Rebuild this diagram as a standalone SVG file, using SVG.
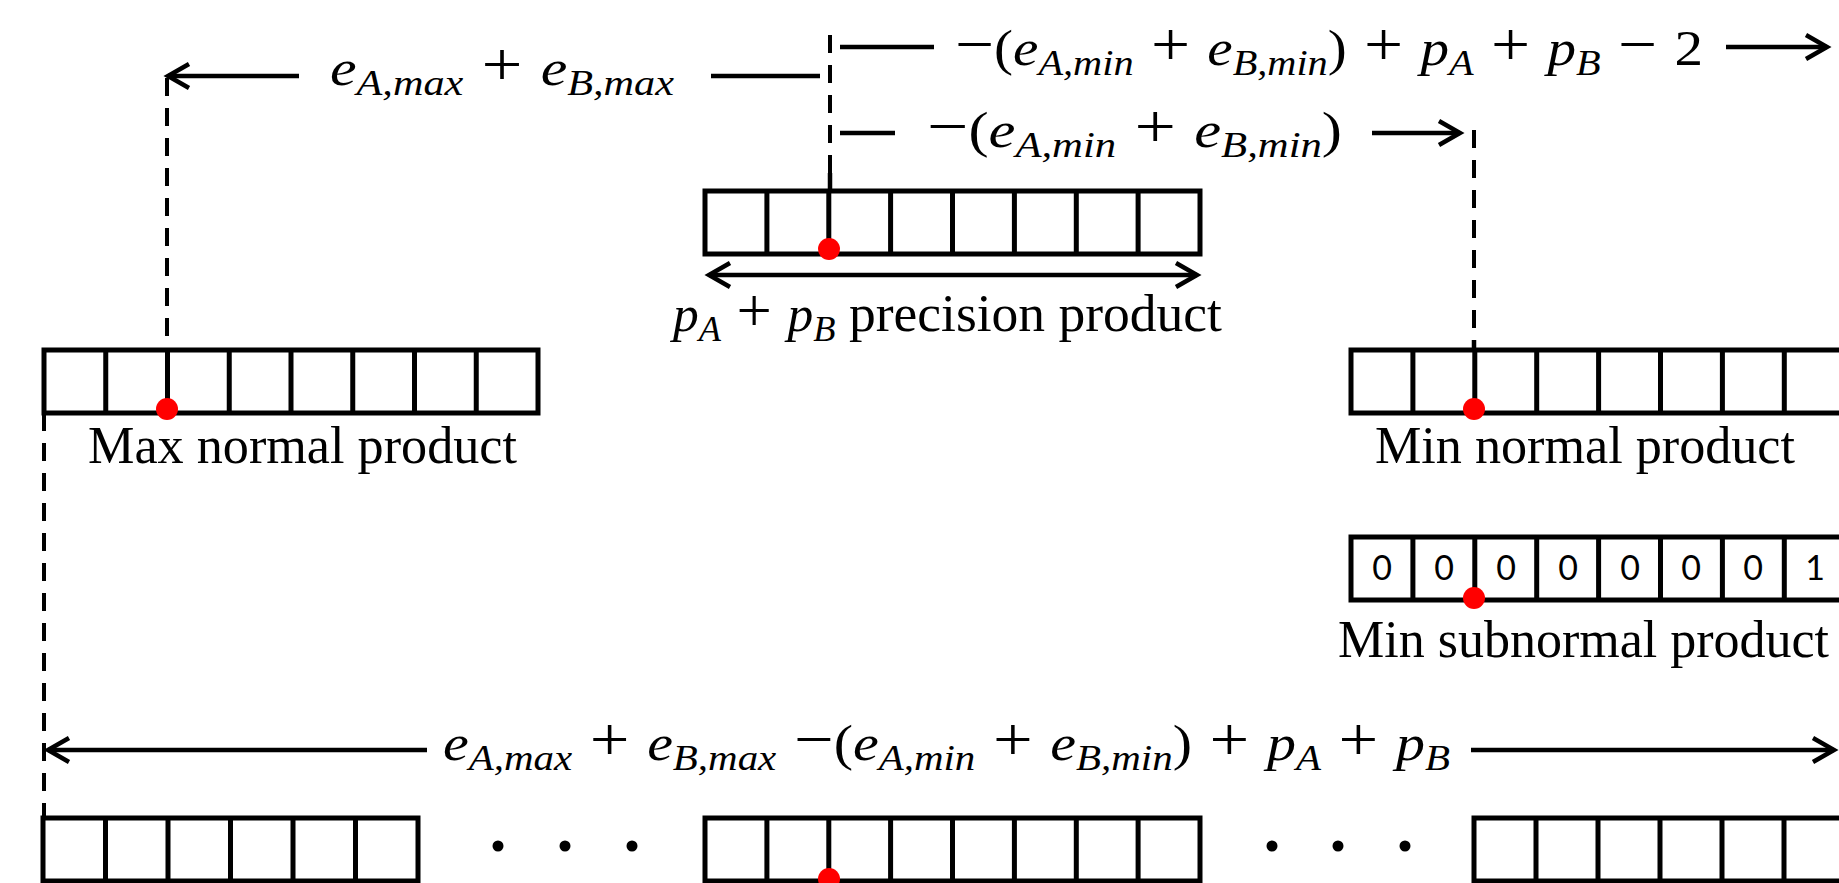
<svg xmlns="http://www.w3.org/2000/svg" width="1839" height="883" viewBox="0 0 1839 883">
<style>
.box{fill:#fff;stroke:#000;stroke-width:5}
.cell{stroke:#000;stroke-width:5;fill:none}
.dash{stroke:#000;stroke-width:4;stroke-dasharray:18 12;fill:none}
.ln{stroke:#000;stroke-width:4.5;fill:none}
.arr{stroke:#000;stroke-width:4.5;fill:none;marker-end:url(#ah)}
.dot{fill:#ff0000}
.lbl{font-family:"Liberation Serif","Times New Roman",serif;font-size:53px;fill:#000}
.math{font-family:"Liberation Serif","Times New Roman",serif;font-size:51px;font-style:italic;fill:#000}
.sub{font-size:36px}
.up{font-style:normal}
.op{font-style:normal;font-size:62px}
.rm{font-style:normal;font-size:53px}
.dig{font-family:Lato,"Liberation Sans",sans-serif;font-size:34px;text-anchor:middle;fill:#000}
</style>
<defs>
<marker id="ah" markerUnits="userSpaceOnUse" markerWidth="40" markerHeight="40" viewBox="-30 -20 40 40" refX="0" refY="0" orient="auto-start-reverse">
<path d="M-21,-12 L0,0 L-21,12" fill="none" stroke="#000" stroke-width="4.5" stroke-linejoin="miter"/>
</marker>
</defs>

<g id="connectors">
<line class="arr" x1="299" y1="76" x2="168" y2="76"/>
<line class="ln" x1="711" y1="76" x2="820" y2="76"/>
<line class="dash" x1="167" y1="78" x2="167" y2="350"/>
<line class="dash" x1="830" y1="35" x2="830" y2="173"/>
<line class="ln" x1="830" y1="173" x2="830" y2="192"/>
<line class="ln" x1="840" y1="47" x2="934" y2="47"/>
<line class="arr" x1="1726" y1="47" x2="1827" y2="47"/>
<line class="ln" x1="840" y1="133" x2="895" y2="133"/>
<line class="arr" x1="1372" y1="133" x2="1460" y2="133"/>
<line class="dash" x1="1474" y1="130" x2="1474" y2="340"/>
<line class="ln" x1="1474" y1="340" x2="1474" y2="351"/>
<line class="ln" x1="709" y1="275" x2="1197" y2="275" marker-start="url(#ah)" marker-end="url(#ah)"/>
<line class="dash" x1="44" y1="413" x2="44" y2="818"/>
<line class="arr" x1="427" y1="750" x2="48" y2="750"/>
<line class="arr" x1="1471" y1="750" x2="1834" y2="750"/>
</g>

<g id="label-emax">
<text class="math" x="330" y="85" textLength="344" lengthAdjust="spacingAndGlyphs">e<tspan class="sub" dy="10">A,max</tspan><tspan class="op" dy="-10"> + </tspan>e<tspan class="sub" dy="10">B,max</tspan></text>
</g>
<g id="label-row1">
<text class="math" x="955" y="65" textLength="748" lengthAdjust="spacingAndGlyphs"><tspan class="op">−</tspan><tspan class="up">(</tspan>e<tspan class="sub" dy="10">A,min</tspan><tspan class="op" dy="-10"> + </tspan>e<tspan class="sub" dy="10">B,min</tspan><tspan class="up" dy="-10">)</tspan><tspan class="op"> + </tspan>p<tspan class="sub" dy="10">A</tspan><tspan class="op" dy="-10"> + </tspan>p<tspan class="sub" dy="10">B</tspan><tspan class="op" dy="-10"> − </tspan><tspan class="up">2</tspan></text>
</g>
<g id="label-row2">
<text class="math" x="927" y="147" textLength="415" lengthAdjust="spacingAndGlyphs"><tspan class="op">−</tspan><tspan class="up">(</tspan>e<tspan class="sub" dy="10">A,min</tspan><tspan class="op" dy="-10"> + </tspan>e<tspan class="sub" dy="10">B,min</tspan><tspan class="up" dy="-10">)</tspan></text>
</g>

<g id="precision-product">
<rect class="box" x="705" y="191" width="495" height="63"/>
<path class="cell" d="M766.9,191V254M828.8,191V254M890.6,191V254M952.5,191V254M1014.4,191V254M1076.3,191V254M1138.1,191V254"/>
<circle class="dot" cx="829" cy="249" r="11"/>
<text class="math" x="673" y="331" textLength="549" lengthAdjust="spacingAndGlyphs">p<tspan class="sub" dy="10">A</tspan><tspan class="op" dy="-10"> + </tspan>p<tspan class="sub" dy="10">B</tspan><tspan class="rm" dy="-10"> precision product</tspan></text>
</g>

<g id="max-normal">
<rect class="box" x="44" y="350" width="494" height="63"/>
<path class="cell" d="M105.75,350V413M167.5,350V413M229.25,350V413M291,350V413M352.75,350V413M414.5,350V413M476.25,350V413"/>
<circle class="dot" cx="167" cy="409" r="11"/>
<text class="lbl" x="88" y="463" textLength="429" lengthAdjust="spacingAndGlyphs">Max normal product</text>
</g>

<g id="min-normal">
<rect class="box" x="1351" y="350" width="495" height="63"/>
<path class="cell" d="M1412.9,350V413M1474.8,350V413M1536.7,350V413M1598.6,350V413M1660.5,350V413M1722.4,350V413M1784.3,350V413"/>
<circle class="dot" cx="1474" cy="409" r="11"/>
<text class="lbl" x="1375" y="463" textLength="420" lengthAdjust="spacingAndGlyphs">Min normal product</text>
</g>

<g id="min-subnormal">
<rect class="box" x="1351" y="537" width="495" height="63"/>
<path class="cell" d="M1412.9,537V600M1474.8,537V600M1536.7,537V600M1598.6,537V600M1660.5,537V600M1722.4,537V600M1784.3,537V600"/>
<text class="dig" x="1382" y="580">0</text>
<text class="dig" x="1444" y="580">0</text>
<text class="dig" x="1506" y="580">0</text>
<text class="dig" x="1568" y="580">0</text>
<text class="dig" x="1630" y="580">0</text>
<text class="dig" x="1691" y="580">0</text>
<text class="dig" x="1753" y="580">0</text>
<text class="dig" x="1815" y="580">1</text>
<circle class="dot" cx="1474" cy="598" r="11"/>
<text class="lbl" x="1338" y="657" textLength="491" lengthAdjust="spacingAndGlyphs">Min subnormal product</text>
</g>

<g id="label-total">
<text class="math" x="443" y="760" textLength="1007" lengthAdjust="spacingAndGlyphs">e<tspan class="sub" dy="10">A,max</tspan><tspan class="op" dy="-10"> + </tspan>e<tspan class="sub" dy="10">B,max</tspan><tspan class="op" dy="-10"> −</tspan><tspan class="up">(</tspan>e<tspan class="sub" dy="10">A,min</tspan><tspan class="op" dy="-10"> + </tspan>e<tspan class="sub" dy="10">B,min</tspan><tspan class="up" dy="-10">)</tspan><tspan class="op"> + </tspan>p<tspan class="sub" dy="10">A</tspan><tspan class="op" dy="-10"> + </tspan>p<tspan class="sub" dy="10">B</tspan></text>
</g>

<g id="bottom-row">
<rect class="box" x="43" y="818" width="375" height="63"/>
<path class="cell" d="M105.5,818V881M168,818V881M230.5,818V881M293,818V881M355.5,818V881"/>
<circle cx="498" cy="846" r="5.5"/>
<circle cx="565" cy="846" r="5.5"/>
<circle cx="632" cy="846" r="5.5"/>
<rect class="box" x="705" y="818" width="495" height="63"/>
<path class="cell" d="M766.9,818V881M828.8,818V881M890.6,818V881M952.5,818V881M1014.4,818V881M1076.3,818V881M1138.1,818V881"/>
<circle class="dot" cx="829" cy="879" r="11"/>
<circle cx="1272" cy="846" r="5.5"/>
<circle cx="1338" cy="846" r="5.5"/>
<circle cx="1405" cy="846" r="5.5"/>
<rect class="box" x="1474" y="818" width="496" height="63"/>
<path class="cell" d="M1536,818V881M1598,818V881M1660,818V881M1722,818V881M1784,818V881"/>
</g>
</svg>
